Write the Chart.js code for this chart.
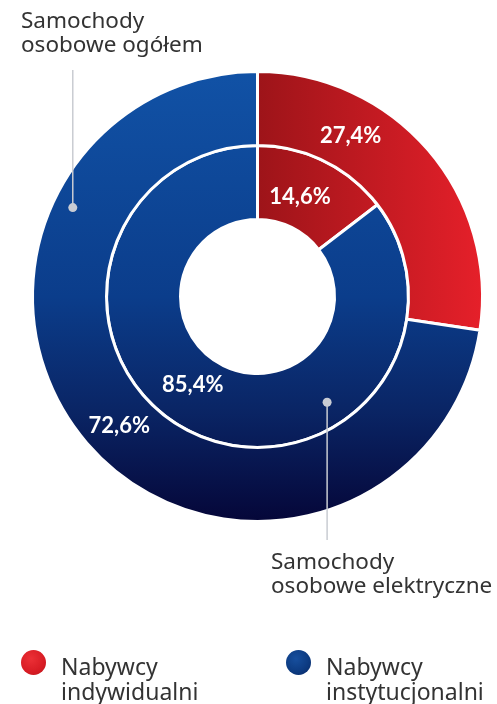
<!DOCTYPE html>
<html><head><meta charset="utf-8">
<script src="https://cdn.jsdelivr.net/npm/chart.js@4.4.1/dist/chart.umd.min.js"></script>
<style>
html,body{margin:0;padding:0;background:#fff;}
#wrap{position:relative;width:497px;height:704px;overflow:hidden;}
canvas{position:absolute;left:0;top:0;}
.t{position:absolute;font-family:"Noto Sans";font-size:22.5px;line-height:24px;color:#333;white-space:nowrap;}
.lg{font-size:23px;line-height:25px;}
.dot{position:absolute;width:25px;height:25px;border-radius:50%;}
</style></head><body>
<div id="wrap">
<canvas id="c" width="497" height="704"></canvas>
<div class="t" style="left:21px;top:8px">Samochody<br>osobowe ogółem</div>
<div class="t" style="left:271px;top:549px">Samochody<br>osobowe elektryczne</div>
<div class="dot" style="left:20.5px;top:649.5px;background:radial-gradient(circle at 40% 35%,#ec3036,#d81c24 60%,#b8161c)"></div>
<div class="t lg" style="left:61px;top:653.5px">Nabywcy<br>indywidualni</div>
<div class="dot" style="left:285.5px;top:649.5px;background:radial-gradient(circle at 40% 35%,#174f9e,#0c3a80 60%,#082560)"></div>
<div class="t lg" style="left:326px;top:653.5px">Nabywcy<br>instytucjonalni</div>
</div>
<script>
const categories = ['Nabywcy indywidualni', 'Nabywcy instytucjonalni'];
const seriesNames = ['Samochody osobowe ogółem', 'Samochody osobowe elektryczne'];
const totalCars = [27.4, 72.6];
const electricCars = [14.6, 85.4];

// label placement inside each arc: [fraction of angle, fraction of ring thickness]
const labelPlace = [[[0.305, 0.47], [0.491, 0.515]], [[0.44, 0.42], [0.532, 0.445]]];
// callouts: dataset, element, angle fraction, radius fraction, line end y
const callouts = [
  {ds: 0, el: 1, f: 0.754, g: 0.73, yEnd: 70},
  {ds: 1, el: 1, f: 0.306, g: 0.67, yEnd: 540}
];

function redGrad(ch) {
  const a = ch.chartArea;
  if (!a) return '#c81c22';
  const cx = (a.left + a.right) / 2;
  const g = ch.ctx.createLinearGradient(cx, 0, a.right, 0);
  g.addColorStop(0, '#9d1419');
  g.addColorStop(1, '#e6202a');
  return g;
}
function blueGrad(ch) {
  const a = ch.chartArea;
  if (!a) return '#0b3d8b';
  const g = ch.ctx.createLinearGradient(0, a.top, 0, a.bottom);
  g.addColorStop(0, '#1152a6');
  g.addColorStop(0.5, '#0b3d8b');
  g.addColorStop(0.75, '#0a2565');
  g.addColorStop(1, '#050638');
  return g;
}
const sliceColor = c => (c.dataIndex === 0 ? redGrad(c.chart) : blueGrad(c.chart));
const fmt = v => v.toFixed(1).replace('.', ',') + '%';

const overlay = {
  id: 'overlay',
  afterDatasetsDraw(chart) {
    const ctx = chart.ctx;
    ctx.save();
    callouts.forEach(co => {
      const arc = chart.getDatasetMeta(co.ds).data[co.el];
      const p = arc.getProps(['x', 'y', 'startAngle', 'endAngle', 'innerRadius', 'outerRadius'], true);
      const a = p.startAngle + co.f * (p.endAngle - p.startAngle);
      const r = p.innerRadius + co.g * (p.outerRadius - p.innerRadius);
      const x = p.x + r * Math.cos(a), y = p.y + r * Math.sin(a);
      ctx.strokeStyle = '#c9ccd2';
      ctx.lineWidth = 1.5;
      ctx.beginPath();
      ctx.moveTo(x, y);
      ctx.lineTo(x, co.yEnd);
      ctx.stroke();
      ctx.fillStyle = '#c9ccd4';
      ctx.beginPath();
      ctx.arc(x, y, 4.5, 0, Math.PI * 2);
      ctx.fill();
    });
    ctx.fillStyle = '#ffffff';
    ctx.font = 'bold 22px Lato';
    ctx.textAlign = 'center';
    ctx.textBaseline = 'middle';
    chart.data.datasets.forEach((ds, di) => {
      chart.getDatasetMeta(di).data.forEach((arc, i) => {
        const p = arc.getProps(['x', 'y', 'startAngle', 'endAngle', 'innerRadius', 'outerRadius'], true);
        const [f, g] = labelPlace[di][i];
        const a = p.startAngle + f * (p.endAngle - p.startAngle);
        const r = p.innerRadius + g * (p.outerRadius - p.innerRadius);
        ctx.fillText(fmt(ds.data[i]), p.x + r * Math.cos(a), p.y + r * Math.sin(a));
      });
    });
    ctx.restore();
  }
};

new Chart(document.getElementById('c'), {
  type: 'doughnut',
  data: {
    labels: categories,
    datasets: [
      {label: seriesNames[0], data: totalCars, backgroundColor: sliceColor, borderColor: '#fff', borderWidth: 3, weight: 1},
      {label: seriesNames[1], data: electricCars, backgroundColor: sliceColor, borderColor: '#fff', borderWidth: 3, weight: 1}
    ]
  },
  options: {
    responsive: false,
    animation: false,
    cutout: 77,
    layout: {padding: {left: 31, right: 13, top: 70, bottom: 181}},
    plugins: {legend: {display: false}, tooltip: {enabled: false}}
  },
  plugins: [overlay]
});
</script>
</body></html>
